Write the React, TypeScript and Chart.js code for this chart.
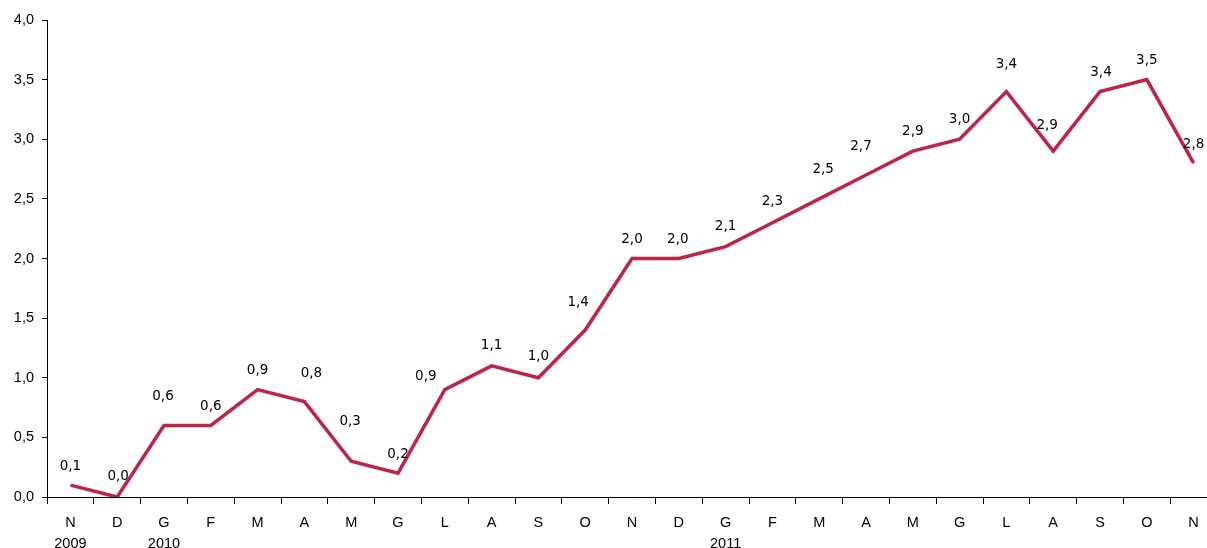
import React, { useEffect, useRef } from "react";
import { Chart, registerables } from "chart.js";

Chart.register(...registerables);

const months = ["N","D","G","F","M","A","M","G","L","A","S","O","N","D","G","F","M","A","M","G","L","A","S","O","N"];
const years = ["2009","","2010","","","","","","","","","","","","2011","","","","","","","","","",""];
const values = [0.1,0.0,0.6,0.6,0.9,0.8,0.3,0.2,0.9,1.1,1.0,1.4,2.0,2.0,2.1,2.3,2.5,2.7,2.9,3.0,3.4,2.9,3.4,3.5,2.8];
const yTicks = [0,0.5,1,1.5,2,2.5,3,3.5,4];

// label placement tweaks (px) relative to the point
const labelDx = [0,1,-1,0,0,7,-1,0,-19,0,0,-7,0,-1,0,0,4,-5,0,0,0,-6,1,0,0];
const labelLift = [19,21,29,19,19,28,40,19,13,20,21,28,19,19,20,21,29,29,20,20,27,26,19,19,19];

const fmt = (v: number) => v.toFixed(1).replace(".", ",");

const labelPlugin = {
  id: "pointLabels",
  afterDatasetsDraw(chart: any) {
    const ctx = chart.ctx;
    const meta = chart.getDatasetMeta(0);
    ctx.save();
    ctx.font = "13.5px 'DejaVu Sans'";
    ctx.fillStyle = "#000";
    ctx.textAlign = "center";
    ctx.textBaseline = "middle";
    meta.data.forEach((pt: any, i: number) => {
      ctx.fillText(fmt(values[i]), pt.x + labelDx[i], pt.y - labelLift[i]);
    });
    ctx.restore();
  },
};

export default function App() {
  const ref = useRef<HTMLCanvasElement>(null);
  useEffect(() => {
    if (!ref.current) return;
    const chart = new Chart(ref.current, {
      type: "line",
      data: {
        labels: months.map((m, i) => [m, years[i]]),
        datasets: [
          {
            data: values,
            borderColor: "#BE2448",
            borderWidth: 3.5,
            pointRadius: 0,
            tension: 0,
            fill: false,
          },
        ],
      },
      options: {
        animation: false,
        responsive: false,
        maintainAspectRatio: false,
        layout: { padding: { top: 20, right: 13, left: 0, bottom: 0 } },
        plugins: { legend: { display: false }, tooltip: { enabled: false } },
        scales: {
          x: {
            offset: true,
            grid: { offset: true, drawOnChartArea: false, drawTicks: true, tickLength: 7, color: "#000" },
            border: { display: true, color: "#000", width: 1 },
            ticks: {
              color: "#000",
              font: { family: "'Liberation Sans', Arial, sans-serif", size: 14.5, lineHeight: 1.45 },
              padding: 8,
              maxRotation: 0,
              autoSkip: false,
            },
            afterFit: (s: any) => { s.height = 51; },
          },
          y: {
            min: 0,
            max: 4,
            afterBuildTicks: (s: any) => { s.ticks = yTicks.map((v) => ({ value: v })); },
            grid: { drawOnChartArea: false, drawTicks: true, tickLength: 5, color: "#000" },
            border: { display: true, color: "#000", width: 1 },
            ticks: {
              color: "#000",
              font: { family: "'Liberation Sans', Arial, sans-serif", size: 14.5 },
              padding: 8,
              callback: (v: any) => fmt(Number(v)),
            },
            afterFit: (s: any) => { s.width = 47; },
          },
        },
      },
      plugins: [labelPlugin],
    });
    return () => chart.destroy();
  }, []);
  return (
    <div style={{ position: "fixed", left: 0, top: 0, width: 1207, height: 548, overflow: "hidden", background: "#fff" }}>
      <canvas ref={ref} width={1230} height={548} style={{ width: 1230, height: 548, display: "block" }} />
    </div>
  );
}
